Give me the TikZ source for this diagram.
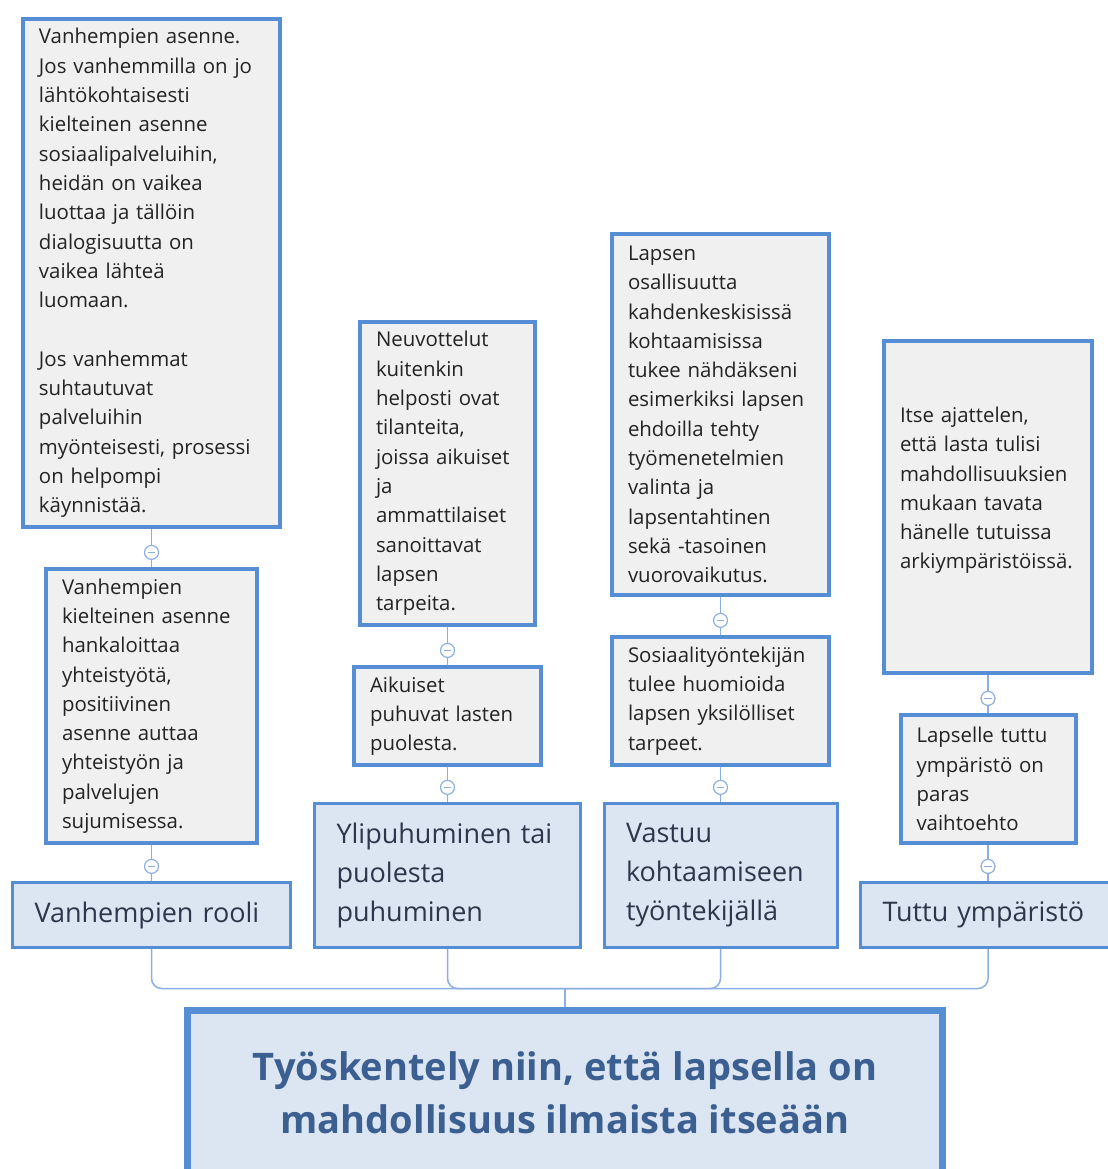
\documentclass[tikz,border=0pt]{standalone}
\usepackage{fontspec}
\setmainfont{Open Sans}
\usepackage{tikz}
\usetikzlibrary{positioning}

\definecolor{boxblue}{RGB}{85,142,213}
\definecolor{boxgray}{RGB}{240,240,240}
\definecolor{topicfill}{RGB}{220,230,242}
\definecolor{topictext}{RGB}{45,55,75}
\definecolor{roottext}{RGB}{60,95,145}
\definecolor{linkblue}{RGB}{140,175,225}
\definecolor{detailtext}{RGB}{35,35,35}

\tikzset{
  detail/.style={draw=boxblue, line width=2pt, fill=boxgray, inner xsep=8pt, inner ysep=0pt,
    align=left, text=detailtext, font=\fontsize{10.2}{14.65}\selectfont},
  topic/.style={draw=boxblue, line width=1.5pt, fill=topicfill, inner xsep=11pt, inner ysep=0pt,
    align=left, text=topictext, font=\fontsize{13.5}{19.5}\selectfont},
  root/.style={draw=boxblue, line width=3.5pt, fill=topicfill, align=center, text=roottext,
    font=\bfseries\fontsize{19}{26.5}\selectfont},
  link/.style={draw=linkblue, line width=0.75pt},
  knob/.style={circle, draw=linkblue, fill=white, line width=0.6pt, minimum size=7pt, inner sep=0pt,
    path picture={\draw[linkblue, line width=0.6pt]
      ([xshift=-1.8pt]path picture bounding box.center) -- ([xshift=1.8pt]path picture bounding box.center);}}
}

\begin{document}
\begin{tikzpicture}[x=0.5pt, y=-0.5pt]
\useasboundingbox (0,0) rectangle (1108,1169);
% first column
\node[detail, text width=112.5pt, minimum height=254pt] (b1) at (151.5,273) {Vanhempien asenne.\\
Jos vanhemmilla on jo\\ lähtökohtaisesti\\ kielteinen asenne\\ sosiaalipalveluihin,\\
heidän on vaikea\\ luottaa ja tällöin\\ dialogisuutta on\\ vaikea lähteä\\ luomaan.\\[\baselineskip]
Jos vanhemmat\\ suhtautuvat\\ palveluihin\\ myönteisesti, prosessi\\ on helpompi\\ käynnistää.};
\node[detail, text width=89.5pt, minimum height=137pt] (b2) at (151.5,706) {Vanhempien\\
kielteinen asenne\\ hankaloittaa\\ yhteistyötä,\\ positiivinen\\ asenne auttaa\\
yhteistyön ja\\ palvelujen\\ sujumisessa.};
\node[topic, text width=117pt, minimum height=32.5pt] (t1) at (151.5,915) {Vanhempien rooli};
% second column
\node[detail, text width=71.5pt, minimum height=151.5pt] (b3) at (447.5,473.5) {Neuvottelut\\
kuitenkin\\ helposti ovat\\ tilanteita,\\ joissa aikuiset\\ ja\\ ammattilaiset\\
sanoittavat\\ lapsen\\ tarpeita.};
\node[detail, text width=77.5pt, minimum height=49pt] (b4) at (447.5,716) {Aikuiset\\
puhuvat lasten\\ puolesta.};
\node[topic, text width=111pt, minimum height=72pt] (t2) at (447.5,875.5) {Ylipuhuminen tai\\
puolesta\\ puhuminen};
% third column
\node[detail, text width=92.5pt, minimum height=180.5pt] (b5) at (720.5,414.5) {Lapsen\\
osallisuutta\\ kahdenkeskisissä\\ kohtaamisissa\\ tukee nähdäkseni\\ esimerkiksi lapsen\\
ehdoilla tehty\\ työmenetelmien\\ valinta ja\\ lapsentahtinen\\ sekä -tasoinen\\ vuorovaikutus.};
\node[detail, text width=92.5pt, minimum height=64pt] (b6) at (720.5,701) {Sosiaalityöntekijän\\
tulee huomioida\\ lapsen yksilölliset\\ tarpeet.};
\node[topic, text width=94.5pt, minimum height=72pt] (t3) at (720.5,875.5) {Vastuu\\
kohtaamiseen\\ työntekijällä};
% fourth column
\node[detail, text width=88pt, minimum height=166pt] (b7) at (988,507) {Itse ajattelen,\\
että lasta tulisi\\ mahdollisuuksien\\ mukaan tavata\\ hänelle tutuissa\\ arkiympäristöissä.\\ \strut};
\node[detail, text width=71.5pt, minimum height=64pt] (b8) at (988,779) {Lapselle tuttu\\
ympäristö on\\ paras\\ vaihtoehto};
\node[topic, text width=105.5pt, minimum height=32.5pt] (t4) at (988,915) {Tuttu ympäristö};
% main box
\node[root, minimum width=377.5pt, minimum height=82pt] (main) at (565,1092.5) {Työskentely niin, että lapsella on\\
mahdollisuus ilmaista itseään};
% draws links
\draw[link] (b1.south) -- (b2.north);
\draw[link] (b2.south) -- (t1.north);
\draw[link] (b3.south) -- (b4.north);
\draw[link] (b4.south) -- (t2.north);
\draw[link] (b5.south) -- (b6.north);
\draw[link] (b6.south) -- (t3.north);
\draw[link] (b7.south) -- (b8.north);
\draw[link] (b8.south) -- (t4.north);
\coordinate (hub) at ([yshift=9.25pt]main.north);
\draw[link] (hub) -- (main.north);
\draw[link, rounded corners=5pt] (hub) -| (t1.south);
\draw[link, rounded corners=5pt] (hub) -| (t2.south);
\draw[link, rounded corners=5pt] (hub) -| (t3.south);
\draw[link, rounded corners=5pt] (hub) -| (t4.south);
% draws knobs
\node[knob, above=3.5pt of b2] (k1) {};
\node[knob, above=3.5pt of t1] (k2) {};
\node[knob, above=3.5pt of b4] (k3) {};
\node[knob, above=3.5pt of t2] (k4) {};
\node[knob, above=3.5pt of b6] (k5) {};
\node[knob, above=3.5pt of t3] (k6) {};
\node[knob, above=3.5pt of b8] (k7) {};
\node[knob, above=3.5pt of t4] (k8) {};
\end{tikzpicture}
\end{document}
